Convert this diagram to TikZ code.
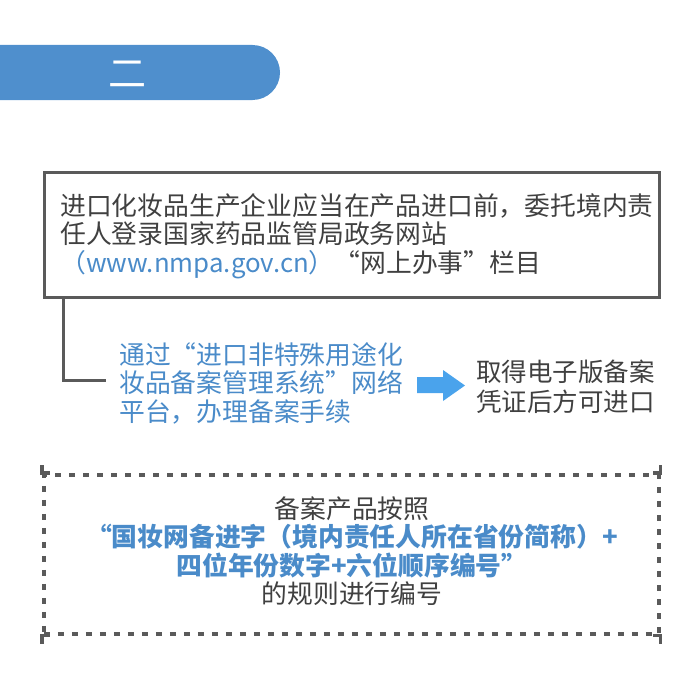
\documentclass[tikz,border=0pt]{standalone}
\usepackage{fontspec}
\setmainfont{Noto Sans CJK SC}
\definecolor{bannerblue}{HTML}{4F8FCD}
\definecolor{txtblue}{HTML}{4A8BC9}
\definecolor{arrowblue}{HTML}{4AA3EC}
\definecolor{darktext}{HTML}{404040}
\definecolor{boxgray}{HTML}{5A5A5A}
\begin{document}
\begin{tikzpicture}[x=1pt,y=-1pt,
  txt/.style={inner sep=0pt, align=left, text=darktext, font=\fontsize{25.8pt}{28.5pt}\selectfont},
  frame/.style={draw=boxgray, line width=3pt, inner sep=0pt},
  conn/.style={draw=boxgray, line width=3pt}]
\useasboundingbox (0,0) rectangle (700,685);
% banner
\node[fill=bannerblue, rounded corners=27.5pt, minimum width=320pt, minimum height=55pt, inner sep=0pt] (banner) at (120,72.5) {};
\node[text=white, font=\fontsize{38pt}{40pt}\selectfont, inner sep=0pt] (bannertext) at (127,74) {二};
% box 1
\node[frame, minimum width=615pt, minimum height=125pt, anchor=north west] (b1) at (43,171) {};
\node[txt, anchor=west] (t1) at (60,236) {进口化妆品生产企业应当在产品进口前，委托境内责\\任人登录国家药品监管局政务网站\\\textcolor{txtblue}{（www.nmpa.gov.cn）}“网上办事”栏目};
% blue text
\node[txt, anchor=west, text=txtblue] (t2) at (119,383) {通过“进口非特殊用途化\\妆品备案管理系统”网络\\平台，办理备案手续};
\coordinate (c1) at ([xshift=-13pt]t2.west |- 0,380);
\draw[conn] (b1.south west) ++(20,0) |- (c1);
% arrow
\fill[arrowblue] (417,377) -- (443,377) -- (443,370) -- (465,385.5) -- (443,401) -- (443,393) -- (417,393) -- cycle;
% right text
\node[txt, anchor=west, font=\fontsize{25.5pt}{30pt}\selectfont] (t3) at (476,387) {取得电子版备案\\凭证后方可进口};
% dashed box
\node[frame, line width=3.5pt, dash pattern=on 6pt off 8pt, minimum width=615pt, minimum height=159pt, anchor=north west] (b2) at (42,473) {};
\draw[conn, line width=3.5pt] ([yshift=8pt]b2.north west) -- (b2.north west) -- ([xshift=8pt]b2.north west);
\draw[conn, line width=3.5pt] ([yshift=8pt]b2.north east) -- (b2.north east) -- ([xshift=-8pt]b2.north east);
\draw[conn, line width=3.5pt] ([yshift=-8pt]b2.south west) -- (b2.south west) -- ([xshift=8pt]b2.south west);
\draw[conn, line width=3.5pt] ([yshift=-8pt]b2.south east) -- (b2.south east) -- ([xshift=-8pt]b2.south east);
\node[txt, align=center] (t4) at (352,551) {备案产品按照\\\textcolor{txtblue}{\bfseries “国妆网备进字（境内责任人所在省份简称）+}\\\textcolor{txtblue}{\bfseries 四位年份数字+六位顺序编号”}\\的规则进行编号};
\end{tikzpicture}
\end{document}
